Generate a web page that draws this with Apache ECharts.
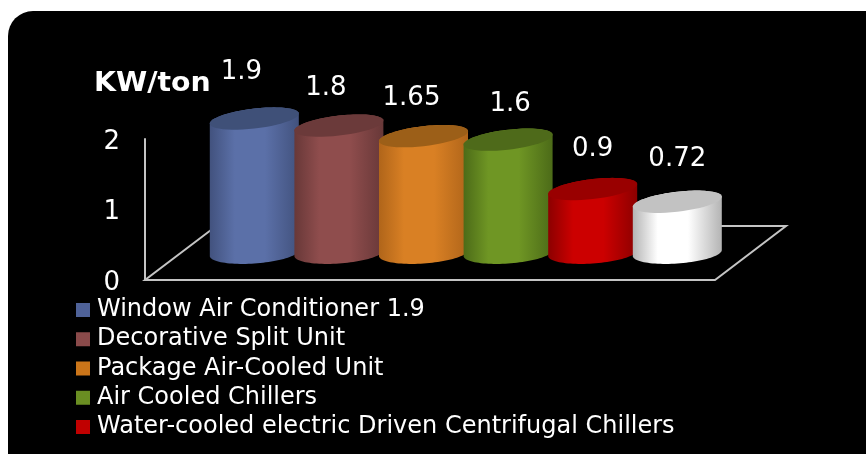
<!DOCTYPE html>
<html>
<head>
<meta charset="utf-8">
<style>html,body{margin:0;padding:0;background:#fff}#c{width:866px;height:454px}</style>
<script src="https://cdn.jsdelivr.net/npm/echarts@6/dist/echarts.min.js"></script>
</head>
<body>
<div id="c"></div>
<script>
const categories = ["Window Air Conditioner 1.9","Decorative Split Unit","Package Air-Cooled Unit","Air Cooled Chillers","Water-cooled electric Driven Centrifugal Chillers","Other"];
const values = [1.9,1.8,1.65,1.6,0.9,0.72];
const yTicks = [0,1,2];
const yTitle = "KW/ton";
const legendNames = categories.slice(0,5);

const swatch = ["#4f6298","#8a4a4a","#cb7519","#6a8e22","#c00000","#ffffff"];
const edge   = ["#42527e","#683838","#b0651a","#4c6b18","#8c0000","#b4b4b4"];
const mid    = ["#5b70a8","#8f4d4d","#d98024","#6f9624","#cc0000","#ffffff"];
const lid    = ["#3f5078","#6b3a3a","#9c5f18","#4e6a1a","#990000","#c2c2c2"];
const labelNudge = [[-13,-5.5],[-13,3.5],[-12,3.5],[2,5.5],[0,1],[0,-1]];

const A = 44.5, B = 10, SHEAR = 5, LIFT = 27.5;
const B_BASE = 10.5, SHEAR_BASE = 3, LIFT_BASE = 27;
function ell(cx,cy,from,to,b,sh){
  const pts=[];
  for(let i=0;i<=48;i++){
    const t=from+(to-from)*i/48, c=Math.cos(t), s=Math.sin(t);
    pts.push([cx+A*c, cy+b*s-sh*c]);
  }
  return pts;
}
function renderCyl(params,api){
  const i=params.seriesIndex;
  const cat=api.value(0), v=api.value(1);
  const top=api.coord([cat,v]), base=api.coord([cat,0]);
  const cx=top[0], yT=top[1]-LIFT, yB=base[1]-LIFT_BASE;
  const body=ell(cx,yB,Math.PI,0,B_BASE,SHEAR_BASE).concat(ell(cx,yT,0,-Math.PI,B,SHEAR));
  const grad={type:'linear',x:0,y:0,x2:1,y2:0,colorStops:[
    {offset:0,color:edge[i]},{offset:.28,color:mid[i]},{offset:.62,color:mid[i]},{offset:1,color:edge[i]}]};
  return {type:'group',children:[
    {type:'polygon',shape:{points:body},style:{fill:grad}},
    {type:'polygon',shape:{points:ell(cx,yT,0,Math.PI*2,B,SHEAR)},style:{fill:lid[i]}},
    {type:'text',x:cx+labelNudge[i][0],y:yT+5-46+labelNudge[i][1],
      style:{text:String(v),fill:'#fff',font:'26px "DejaVu Sans"',align:'center',verticalAlign:'middle'}}
  ]};
}
const chart=echarts.init(document.getElementById('c'),null,{renderer:'canvas'});
chart.setOption({
  animation:false,
  backgroundColor:'#fff',
  legend:{data:legendNames,orient:'vertical',left:76,top:292.5,itemWidth:14,itemHeight:14,itemGap:-5.75,
    icon:'rect',padding:0,selectedMode:false,
    textStyle:{color:'#fff',fontFamily:'DejaVu Sans',fontSize:24,padding:[11,0,0,2],lineHeight:24}},
  grid:{left:212,top:139,width:507.6,height:141},
  xAxis:{type:'category',data:categories,show:false},
  yAxis:{type:'value',min:0,max:2,interval:1,offset:67,
    axisLine:{show:true,lineStyle:{color:'#c4c4c4',width:2}},axisTick:{show:false},splitLine:{show:false},
    axisLabel:{color:'#fff',fontFamily:'DejaVu Sans',fontSize:26,margin:25,verticalAlign:'top',lineHeight:6,formatter:v=>yTicks.includes(v)?String(v):''}},
  graphic:[
    {type:'rect',z:-20,shape:{x:8,y:11,width:900,height:480,r:25},style:{fill:'#000'}},
    {type:'polyline',z:-10,shape:{points:[[211,230],[145,280],[715,280],[786,226],[700,226]]},style:{stroke:'#c4c4c4',lineWidth:2,fill:null}},
    {type:'text',z:5,x:94,y:84,scaleX:1.09,style:{text:yTitle,fill:'#fff',font:'bold 26px "DejaVu Sans"',align:'left',verticalAlign:'middle'}}
  ],
  series:categories.map((n,i)=>({
    name:n,type:'custom',renderItem:renderCyl,z:10+i,clip:false,
    itemStyle:{color:swatch[i]},
    encode:{x:0,y:1},
    data:[[i,values[i]]]
  }))
});
</script>
</body>
</html>
